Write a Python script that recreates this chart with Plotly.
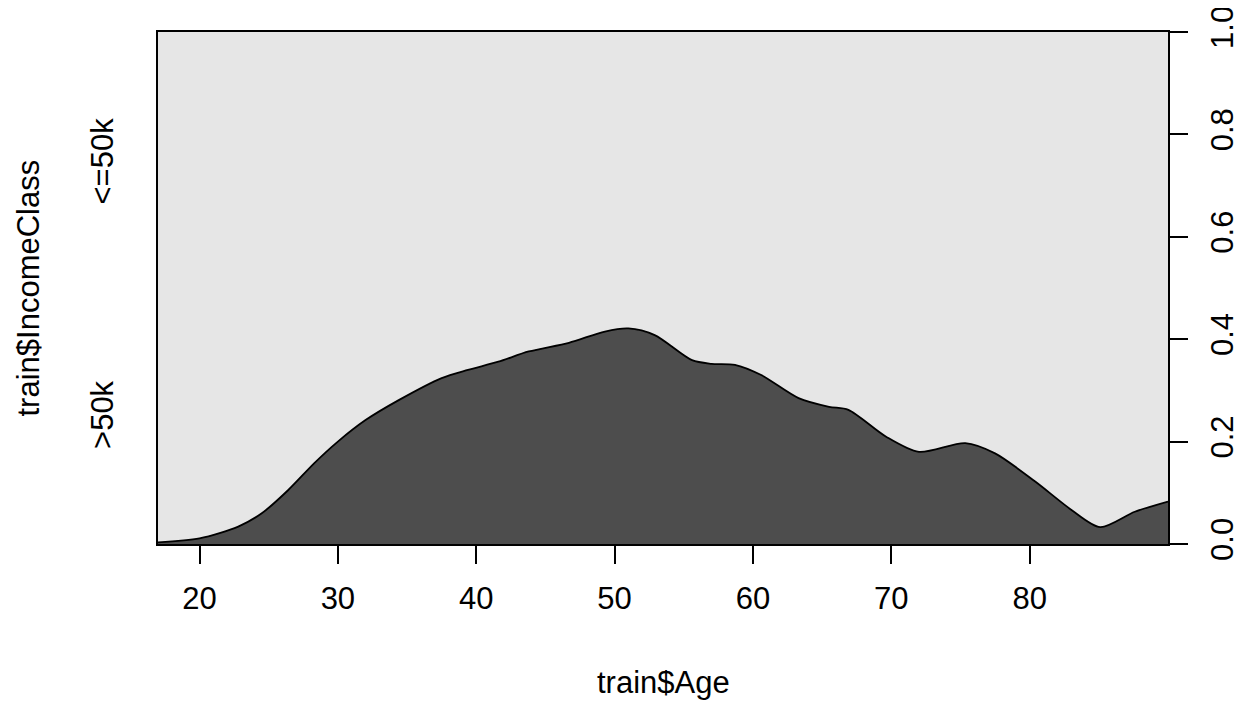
import plotly.graph_objects as go

age = [17, 20, 22.8, 24.5, 26.4, 28.3, 30, 32, 34.4, 37.5, 39.4, 41.6, 43.8, 46.7,
       49.3, 51, 52.9, 55.6, 57, 58.7, 60.6, 63.3, 65.5, 66.9, 69.6, 72, 75.35,
       77.5, 80.4, 83.05, 85.1, 87.6, 90]
prop_gt50k = [0.003, 0.011, 0.034, 0.06, 0.105, 0.158, 0.2, 0.242, 0.281, 0.324, 0.34,
              0.356, 0.376, 0.393, 0.415, 0.421, 0.408, 0.359, 0.352, 0.35, 0.33,
              0.285, 0.268, 0.262, 0.21, 0.18, 0.197, 0.177, 0.122, 0.066, 0.033,
              0.063, 0.083]
x_ticks = [20, 30, 40, 50, 60, 70, 80]
y_ticks = [0.0, 0.2, 0.4, 0.6, 0.8, 1.0]
y_ticktext = ["0.0", "0.2", "0.4", "0.6", "0.8", "1.0"]
levels = [">50k", "<=50k"]
level_pos = [0.253, 0.748]

FONT = "Liberation Sans, Arial, sans-serif"
FS = 31

fig = go.Figure()
fig.add_trace(go.Scatter(
    x=age, y=prop_gt50k, mode="lines", fill="tozeroy",
    fillcolor="#4D4D4D", line=dict(color="black", width=1.8, shape="spline", smoothing=0.8),
    hoverinfo="skip", showlegend=False))

fig.update_layout(
    width=1245, height=694,
    margin=dict(l=150, r=85, t=24, b=158, autoexpand=False),
    paper_bgcolor="white", plot_bgcolor="#E6E6E6",
    font=dict(family=FONT, size=FS, color="black"),
    xaxis=dict(range=[17, 90], tickvals=x_ticks, ticks="outside", ticklen=18,
               tickwidth=1.5, tickcolor="black", showgrid=False, zeroline=False,
               showline=True, linecolor="black", linewidth=2, mirror=True,
               automargin=False, ticklabelstandoff=8, tickfont=dict(size=FS)),
    yaxis=dict(range=[0, 1], side="right", tickvals=y_ticks, ticktext=y_ticktext,
               tickangle=-90, ticks="outside", ticklen=18, tickwidth=1.5,
               tickcolor="black", showgrid=False, zeroline=False, showline=True,
               linecolor="black", linewidth=2, mirror=True, ticklabeloverflow="allow",
               automargin=False, ticklabelstandoff=8, tickfont=dict(size=FS)),
)

for lab, pos in zip(levels, level_pos):
    fig.add_annotation(text=lab, xref="paper", yref="paper", x=(102.5 - 158) / 1010,
                       y=pos, showarrow=False, textangle=-90,
                       xanchor="center", yanchor="middle", font=dict(size=FS))

fig.add_annotation(text="train$IncomeClass", xref="paper", yref="paper",
                   x=(27.5 - 158) / 1010, y=0.5, showarrow=False, textangle=-90,
                   xanchor="center", yanchor="middle", font=dict(size=FS))
fig.add_annotation(text="train$Age", xref="paper", yref="paper",
                   x=0.5, y=-(682 - 544) / 512, showarrow=False,
                   xanchor="center", yanchor="middle", font=dict(size=FS))

fig.write_html("out.html")
